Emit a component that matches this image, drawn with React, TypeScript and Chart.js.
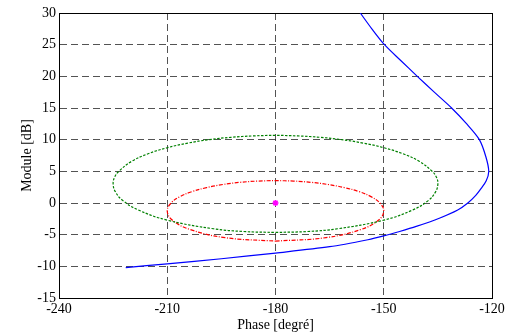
import React, { useEffect, useRef } from "react";
import { Chart, registerables } from "chart.js";

Chart.register(...registerables);

// Open-loop Nichols locus (phase in degrees, module in dB)
const locusPhase = [-221.5, -210, -195, -180, -165, -154.4, -150, -145.6, -141, -134.6, -129.5, -126.7, -124.5, -123, -121.6, -120.9, -121.7, -123.5, -127.2, -131.2, -136.0, -140.7, -145.3, -149.8, -153.3, -156.5];
const locusDb = [-10.2, -9.6, -8.8, -7.9, -6.9, -5.8, -5.2, -4.5, -3.7, -2.4, -1.1, 0, 1.2, 2.3, 3.5, 5.0, 7.3, 10, 12.6, 15, 17.5, 20, 22.5, 25, 27.5, 30];

// Closed-loop 3 dB contour (green)
const greenPhase = [-180, -171.1, -162.8, -150, -142, -137.6, -135.6, -135, -135.4, -136.6, -140.1, -144.7, -150, -155.7, -161.6, -167.6, -173.8, -180, -186.2, -192.4, -198.4, -204.3, -210, -215.3, -219.9, -223.4, -224.6, -225, -224.4, -222.4, -218, -210, -197.2, -188.9, -180];
const greenDb = [-4.65, -4.5, -4.07, -2.71, -1.11, 0.42, 1.8, 3.01, 4.08, 5.01, 6.57, 7.78, 8.73, 9.46, 10.0, 10.37, 10.59, 10.67, 10.59, 10.37, 10.0, 9.46, 8.73, 7.78, 6.57, 5.01, 4.08, 3.01, 1.8, 0.42, -1.11, -2.71, -4.07, -4.5, -4.65];

// Modulus-margin contour (red)
const redPhase = [-180, -166, -156.2, -151.3, -150, -151, -153.4, -156.8, -160.9, -165.4, -170.1, -175, -180, -185, -189.9, -194.6, -199.1, -203.2, -206.6, -209, -210, -208.7, -203.8, -194, -180];
const redDb = [-6.02, -5.47, -4.16, -2.65, -1.25, -0.04, 0.97, 1.79, 2.43, 2.92, 3.26, 3.46, 3.52, 3.46, 3.26, 2.92, 2.43, 1.79, 0.97, -0.04, -1.25, -2.65, -4.16, -5.47, -6.02];

// Critical point
const criticalPhase = [-180];
const criticalDb = [0];

const xTicks = [-240, -210, -180, -150, -120];
const yTicks = [-15, -10, -5, 0, 5, 10, 15, 20, 25, 30];

const toPts = (xs: number[], ys: number[]) => xs.map((x, i) => ({ x, y: ys[i] }));

const FONT = "'Liberation Serif', 'Times New Roman', serif";

export default function App() {
  const ref = useRef<HTMLCanvasElement | null>(null);
  useEffect(() => {
    if (!ref.current) return;
    const gridCommon = { color: "rgba(40,40,40,0.8)", lineWidth: 1, drawTicks: false };
    const chart = new Chart(ref.current, {
      type: "scatter",
      data: {
        datasets: [
          {
            data: toPts(locusPhase, locusDb),
            showLine: true,
            borderColor: "#0000ff",
            borderWidth: 1.2,
            pointRadius: 0,
            tension: 0.3,
          },
          {
            data: toPts(greenPhase, greenDb),
            showLine: true,
            borderColor: "#008000",
            borderWidth: 1.2,
            borderDash: [2.5, 1.5],
            pointRadius: 0,
            tension: 0.4,
          },
          {
            data: toPts(redPhase, redDb),
            showLine: true,
            borderColor: "#ff0000",
            borderWidth: 1.2,
            borderDash: [4, 1.5, 1, 1.5],
            pointRadius: 0,
            tension: 0.4,
          },
          {
            data: toPts(criticalPhase, criticalDb),
            showLine: false,
            pointStyle: "star",
            pointRadius: 3,
            borderColor: "#ff00ff",
            backgroundColor: "#ff00ff",
            borderWidth: 1.5,
          },
        ],
      },
      options: {
        responsive: false,
        animation: false,
        layout: { padding: { left: 0, right: 13, top: 13, bottom: 0 } },
        plugins: { legend: { display: false }, tooltip: { enabled: false } },
        scales: {
          x: {
            type: "linear",
            min: -240,
            max: -120,
            afterBuildTicks: (s: any) => { s.ticks = xTicks.map((v) => ({ value: v })); },
            afterFit: (s: any) => { s.height = 36; s.paddingLeft = 0; s.paddingRight = 0; },
            ticks: { color: "#000", font: { family: FONT, size: 14 }, padding: 3, maxRotation: 0 },
            grid: gridCommon,
            border: { color: "#000", width: 1, dash: [7, 4] },
            title: { display: true, text: "Phase [degré]", color: "#000", font: { family: FONT, size: 14 }, padding: { top: 0, bottom: 0.6 } },
          },
          y: {
            type: "linear",
            min: -15,
            max: 30,
            afterBuildTicks: (s: any) => { s.ticks = yTicks.map((v) => ({ value: v })); },
            afterFit: (s: any) => { s.width = 59; s.paddingTop = 0; s.paddingBottom = 0; },
            ticks: { color: "#000", font: { family: FONT, size: 14 }, padding: 3 },
            grid: gridCommon,
            border: { color: "#000", width: 1, dash: [7, 4] },
            title: { display: true, text: "Module [dB]", color: "#000", font: { family: FONT, size: 14 }, padding: { top: 18.6, bottom: 0 } },
          },
          x2: {
            type: "linear",
            position: "top",
            min: -240,
            max: -120,
            ticks: { display: false },
            grid: { drawOnChartArea: false, drawTicks: false },
            border: { color: "#000", width: 1 },
            afterFit: (s: any) => { s.height = 0; s.paddingLeft = 0; s.paddingRight = 0; },
          },
          y2: {
            type: "linear",
            position: "right",
            min: -15,
            max: 30,
            ticks: { display: false },
            grid: { drawOnChartArea: false, drawTicks: false },
            border: { color: "#000", width: 1 },
            afterFit: (s: any) => { s.width = 0; s.paddingTop = 0; s.paddingBottom = 0; },
          },
        },
      },
    } as any);
    return () => chart.destroy();
  }, []);
  return (
    <div style={{ position: "fixed", left: 0, top: 0, width: 505, height: 334, background: "#fff" }}>
      <canvas ref={ref} width={505} height={334} />
    </div>
  );
}
